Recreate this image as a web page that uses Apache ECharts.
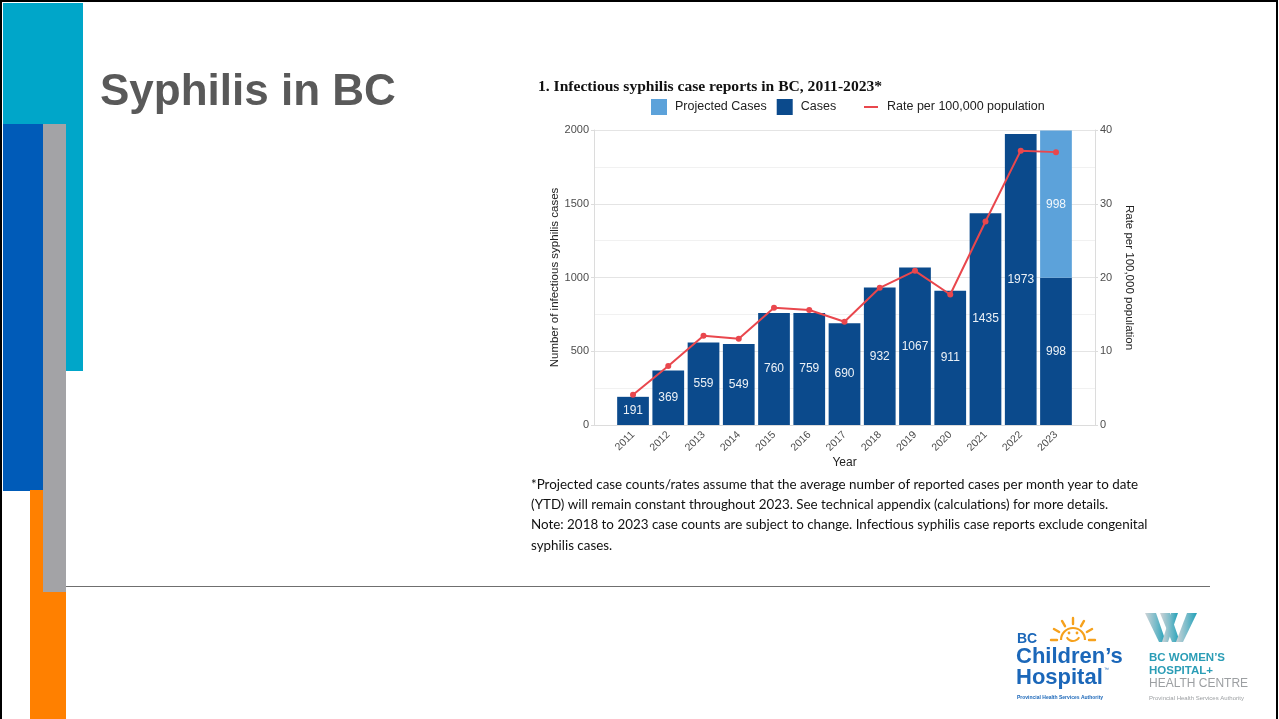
<!DOCTYPE html>
<html>
<head>
<meta charset="utf-8">
<script src="https://cdn.jsdelivr.net/npm/echarts@6/dist/echarts.min.js"></script>
<style>
  html, body { margin: 0; padding: 0; background: #ffffff; }
  #chart { width: 1279px; height: 719px; }
</style>
</head>
<body>
<div id="chart"></div>
<script>
// Infectious syphilis case reports in BC, 2011-2023
const years = ['2011', '2012', '2013', '2014', '2015', '2016', '2017', '2018', '2019', '2020', '2021', '2022', '2023'];
const cases = [191, 369, 559, 549, 760, 759, 690, 932, 1067, 911, 1435, 1973, 998];
const projectedCases = [null, null, null, null, null, null, null, null, null, null, null, null, 998];
const ratePer100k = [4.1, 8.0, 12.1, 11.7, 15.9, 15.6, 14.0, 18.6, 20.9, 17.7, 27.6, 37.2, 37.0];

const footnoteLines = [
  '*Projected case counts/rates assume that the average number of reported cases per month year to date',
  '(YTD) will remain constant throughout 2023. See technical appendix (calculations) for more details.',
  'Note: 2018 to 2023 case counts are subject to change. Infectious syphilis case reports exclude congenital',
  'syphilis cases.'
];

const DARK = '#0b4a8c';
const LIGHT = '#5ca2da';
const RED = '#e9474d';
const AXIS_TXT = '#4d4d4d';
const GRID_LINE = '#e4e4e4';
const SANS = '"Liberation Sans", Arial, sans-serif';

const chart = echarts.init(document.getElementById('chart'), null, { renderer: 'canvas' });

// slide decoration, titles, footnote and logos
const graphics = [];
function rect(x, y, w, h, fill, z) {
  graphics.push({ type: 'rect', shape: { x, y, width: w, height: h }, style: { fill }, z: z || 1, silent: true });
}
function text(x, y, str, font, fill) {
  graphics.push({
    type: 'text', x, y,
    style: { text: str, font, fill, textVerticalAlign: 'middle' },
    silent: true, z: 5
  });
}

// left colour blocks
rect(3, 3, 80, 122, '#00a6c9');
rect(66, 124, 17, 247, '#00a6c9');
rect(3, 124, 40, 367, '#005bb8');
rect(30, 490, 36, 229, '#ff8000');
rect(43, 124, 23, 468, '#a3a3a6', 2);

// slide frame
graphics.push({ type: 'rect', shape: { x: 1, y: 1, width: 1276, height: 730 }, style: { fill: 'none', stroke: '#000', lineWidth: 2 }, z: 10, silent: true });

// divider line
graphics.push({ type: 'line', shape: { x1: 66, y1: 586.5, x2: 1210, y2: 586.5 }, style: { stroke: '#6f6f6f', lineWidth: 1 }, z: 3, silent: true });

// slide title
text(100, 93, 'Syphilis in BC', 'bold 44px ' + SANS, '#595959');

// chart title
text(538, 87, '1. Infectious syphilis case reports in BC, 2011-2023*', 'bold 15.6px "Liberation Serif", "Times New Roman", serif', '#111');

// footnote
const footY = [485, 505, 525, 546];
footnoteLines.forEach((ln, i) => {
  text(531, footY[i], ln, '13.4px Lato, sans-serif', '#111');
});

// BC Children's Hospital logo
const ORANGE = '#f6a11c';
const CH_BLUE = '#1b67b9';
text(1017, 639, 'BC', 'bold 14px ' + SANS, CH_BLUE);
graphics.push({ type: 'arc', shape: { cx: 1073, cy: 640, r: 12, startAngle: Math.PI, endAngle: 2 * Math.PI }, style: { stroke: ORANGE, lineWidth: 2.2, fill: 'none' }, silent: true, z: 5 });
graphics.push({ type: 'arc', shape: { cx: 1073, cy: 634, r: 7, startAngle: 0.15 * Math.PI, endAngle: 0.85 * Math.PI }, style: { stroke: ORANGE, lineWidth: 2, fill: 'none' }, silent: true, z: 5 });
graphics.push({ type: 'circle', shape: { cx: 1069, cy: 633, r: 1.4 }, style: { fill: ORANGE }, silent: true, z: 5 });
graphics.push({ type: 'circle', shape: { cx: 1077, cy: 633, r: 1.4 }, style: { fill: ORANGE }, silent: true, z: 5 });
[180, 150, 120, 90, 60, 30, 0].forEach(a => {
  const rad = a * Math.PI / 180;
  const r1 = 16, r2 = 22;
  graphics.push({ type: 'line', shape: { x1: 1073 + r1 * Math.cos(rad), y1: 640 - r1 * Math.sin(rad), x2: 1073 + r2 * Math.cos(rad), y2: 640 - r2 * Math.sin(rad) }, style: { stroke: ORANGE, lineWidth: 2.4, lineCap: 'round' }, silent: true, z: 5 });
});
text(1016, 657, 'Children\u2019s', 'bold 22px ' + SANS, CH_BLUE);
text(1016, 678, 'Hospital', 'bold 22px ' + SANS, CH_BLUE);
text(1104, 670, '\u2122', '5px ' + SANS, CH_BLUE);
text(1017, 698, 'Provincial Health Services Authority', 'bold 5px ' + SANS, CH_BLUE);

// BC Women's Hospital + Health Centre logo
const W_GRAD = new echarts.graphic.LinearGradient(0, 0, 1, 0, [
  { offset: 0, color: '#cfd3d6' }, { offset: 0.5, color: '#7bbcca' }, { offset: 1, color: '#1fa0b8' }
]);
const wStrokes = [
  [[1145, 613], [1156, 613], [1166, 642], [1159, 642]],
  [[1160, 613], [1170, 613], [1180, 642], [1172, 642]],
  [[1162, 642], [1171, 613], [1178, 613], [1168, 642]],
  [[1176, 642], [1187, 613], [1197, 613], [1183, 642]]
];
wStrokes.forEach(p => graphics.push({ type: 'polygon', shape: { points: p }, style: { fill: W_GRAD }, silent: true, z: 5 }));
const TEAL = '#2b9db6';
text(1149, 658, 'BC WOMEN\u2019S', 'bold 11.5px ' + SANS, TEAL);
text(1149, 671, 'HOSPITAL+', 'bold 11.5px ' + SANS, TEAL);
text(1149, 684, 'HEALTH CENTRE', '12px ' + SANS, '#9c9fa2');
text(1149, 698, 'Provincial Health Services Authority', '6px ' + SANS, '#9c9fa2');

const option = {
  backgroundColor: '#ffffff',
  animation: false,
  textStyle: { fontFamily: SANS },
  legend: [
    {
      left: 651, top: 99, padding: 0, itemWidth: 16, itemHeight: 16, itemGap: 10, icon: 'rect',
      textStyle: { fontSize: 12.5, color: '#222', padding: [0, 0, 0, 3] },
      data: ['Projected Cases', 'Cases'],
      selectedMode: false
    },
    {
      left: 864, top: 99, padding: 0, itemWidth: 14, itemHeight: 2, icon: 'rect',
      textStyle: { fontSize: 12.5, color: '#222', padding: [0, 0, 0, 4], lineHeight: 16 },
      data: [{ name: 'Rate per 100,000 population', itemStyle: { color: RED } }],
      selectedMode: false
    }
  ],
  grid: [
    // panel frame with gridlines
    { left: 594, top: 130, width: 501, height: 295, containLabel: false },
    // data area
    { left: 615.4, top: 130, width: 458.2, height: 295, containLabel: false }
  ],
  xAxis: [
    {
      type: 'value', gridIndex: 0, min: 0, max: 1,
      axisLine: { show: true, lineStyle: { color: '#dcdcdc', width: 1 } },
      axisTick: { show: false }, axisLabel: { show: false }, splitLine: { show: false }
    },
    {
      type: 'category', gridIndex: 1, data: years,
      name: 'Year', nameLocation: 'middle', nameGap: 32,
      nameTextStyle: { fontSize: 12, color: '#222' },
      axisLine: { show: false }, axisTick: { show: false },
      axisLabel: { rotate: 45, color: AXIS_TXT, fontSize: 10.5, margin: 8 }
    }
  ],
  yAxis: [
    {
      type: 'value', gridIndex: 0, min: 0, max: 2000, interval: 500, position: 'left',
      name: 'Number of infectious syphilis cases', nameLocation: 'middle', nameGap: 33.5,
      nameTextStyle: { fontSize: 11.5, color: '#222' },
      axisLine: { show: true, lineStyle: { color: '#dcdcdc' } },
      axisTick: { show: true, length: 3, lineStyle: { color: '#dcdcdc' } },
      axisLabel: { color: AXIS_TXT, fontSize: 11, margin: 5, formatter: v => String(v) },
      splitLine: { show: true, lineStyle: { color: GRID_LINE, width: 1 } },
      minorTick: { show: false, splitNumber: 2 },
      minorSplitLine: { show: true, lineStyle: { color: '#f1f1f1', width: 1 } }
    },
    {
      type: 'value', gridIndex: 0, min: 0, max: 40, interval: 10, position: 'right',
      name: 'Rate per 100,000 population', nameLocation: 'middle', nameGap: 28.5, nameRotate: -90,
      nameTextStyle: { fontSize: 11.5, color: '#222' },
      axisLine: { show: true, lineStyle: { color: '#dcdcdc' } },
      axisTick: { show: true, length: 3, lineStyle: { color: '#dcdcdc' } },
      axisLabel: { color: AXIS_TXT, fontSize: 11, margin: 5, formatter: v => String(v) },
      splitLine: { show: false }
    },
    { type: 'value', gridIndex: 1, min: 0, max: 2000, show: false },
    { type: 'value', gridIndex: 1, min: 0, max: 40, show: false }
  ],
  series: [
    {
      name: 'Cases', type: 'bar', xAxisIndex: 1, yAxisIndex: 2, stack: 'total',
      data: cases, barCategoryGap: '10%',
      itemStyle: { color: DARK },
      label: { show: true, position: 'inside', color: 'rgba(255,255,255,0.92)', fontSize: 12 }
    },
    {
      name: 'Projected Cases', type: 'bar', xAxisIndex: 1, yAxisIndex: 2, stack: 'total',
      data: projectedCases, barCategoryGap: '10%',
      itemStyle: { color: LIGHT },
      label: { show: true, position: 'inside', color: 'rgba(255,255,255,0.92)', fontSize: 12 }
    },
    {
      name: 'Rate per 100,000 population', type: 'line', xAxisIndex: 1, yAxisIndex: 3,
      data: ratePer100k, symbol: 'circle', symbolSize: 6,
      lineStyle: { color: RED, width: 2 }, itemStyle: { color: RED }, z: 5
    }
  ],
  graphic: graphics
};

chart.setOption(option);
</script>
</body>
</html>
